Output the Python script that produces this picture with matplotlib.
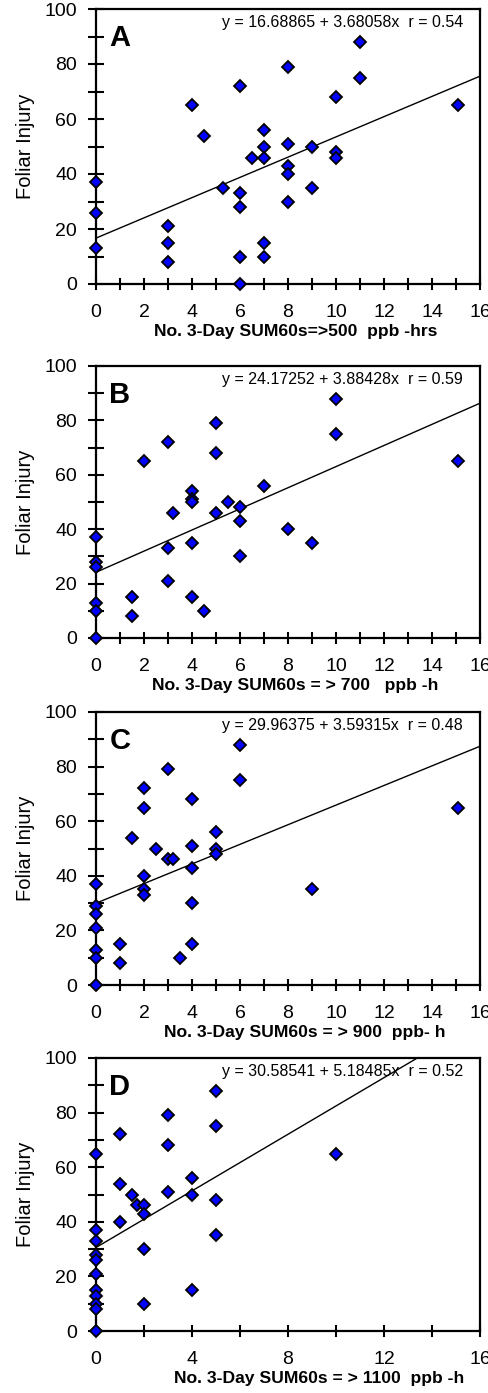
import matplotlib
matplotlib.use("Agg")
import matplotlib.pyplot as plt
import numpy as np

plt.rcParams['font.family'] = ['Liberation Sans', 'DejaVu Sans']

# ---------------- data ----------------
a_x = [0, 0, 0, 3, 3, 3, 4, 4.5, 5.3, 6, 6, 6, 6, 6, 6.5, 7, 7, 7, 7, 7,
       8, 8, 8, 8, 8, 9, 9, 10, 10, 10, 11, 11, 15.1]
a_y = [37, 26, 13, 21, 15, 8, 65, 54, 35, 72, 33, 28, 10, 0, 46, 56, 50, 46, 15, 10,
       79, 51, 43, 40, 30, 50, 35, 68, 48, 46, 88, 75, 65]

b_x = [0, 0, 0, 0, 0, 0, 1.5, 1.5, 2, 3, 3, 3, 3.2, 4, 4, 4, 4, 4, 4.5,
       5, 5, 5, 5.5, 6, 6, 6, 7, 8, 9, 10, 10, 15.1]
b_y = [37, 28, 26, 13, 10, 0, 15, 8, 65, 72, 33, 21, 46, 54, 51, 50, 35, 15, 10,
       79, 68, 46, 50, 48, 43, 30, 56, 40, 35, 88, 75, 65]

c_x = [0, 0, 0, 0, 0, 0, 0, 1, 1, 1.5, 2, 2, 2, 2, 2, 2.5, 3, 3, 3.2, 3.5,
       4, 4, 4, 4, 4, 5, 5, 5, 6, 6, 9, 15.1]
c_y = [37, 29, 26, 21, 13, 10, 0, 15, 8, 54, 72, 65, 40, 35, 33, 50, 79, 46, 46, 10,
       68, 51, 43, 30, 15, 56, 50, 48, 88, 75, 35, 65]

d_x = [0, 0, 0, 0, 0, 0, 0, 0, 0, 0, 0, 1, 1, 1, 1.5, 1.7, 2, 2, 2, 2,
       3, 3, 3, 4, 4, 4, 5, 5, 5, 5, 10]
d_y = [65, 37, 33, 28, 26, 21, 15, 13, 10, 8, 0, 72, 54, 40, 50, 46, 46, 43, 30, 10,
       79, 68, 51, 56, 50, 15, 88, 75, 48, 35, 65]

intercepts = [16.68865, 24.17252, 29.96375, 30.58541]
slopes = [3.68058, 3.88428, 3.59315, 5.18485]
r_values = ["0.54", "0.59", "0.48", "0.52"]
panel_letters = ["A", "B", "C", "D"]
x_labels = ["No. 3-Day SUM60s=>500  ppb -hrs",
            "No. 3-Day SUM60s = > 700   ppb -h",
            "No. 3-Day SUM60s = > 900  ppb- h",
            "No. 3-Day SUM60s = > 1100  ppb -h"]
y_label = "Foliar Injury"

xs = [a_x, b_x, c_x, d_x]
ys = [a_y, b_y, c_y, d_y]

# ---------------- layout ----------------
W, H = 489, 1393
fig = plt.figure(figsize=(W / 100, H / 100), dpi=100)

# (top, bottom) pixel rows for each panel
rows = [(9, 284), (366, 638), (712, 985), (1058, 1331)]
left, right = 96, 480
xlabel_pos = [(296, 331.5), (295, 685.5), (305, 1032), (319, 1378)]

for i in range(4):
    top, bot = rows[i]
    ax = fig.add_axes([left / W, 1 - bot / H, (right - left) / W, (bot - top) / H])
    ax.set_xlim(0, 16)
    ax.set_ylim(0, 100)

    # regression line
    lx = np.linspace(0, 16, 200)
    ly = intercepts[i] + slopes[i] * lx
    ax.plot(lx, ly, color='black', lw=1.0, zorder=2)

    ax.plot(xs[i], ys[i], linestyle='none', marker='D', ms=6.6,
            mfc='#0000FF', mec='black', mew=1.3, clip_on=False, zorder=3)

    for s in ax.spines.values():
        s.set_linewidth(1.6)

    ax.set_yticks(np.arange(0, 101, 20))
    ax.set_yticks(np.arange(10, 100, 20), minor=True)
    if i < 3:
        ax.set_xticks(np.arange(0, 17, 2))
        ax.set_xticks(np.arange(1, 16, 2), minor=True)
    else:
        ax.set_xticks(np.arange(0, 17, 4))
        ax.set_xticks(np.arange(2, 16, 4), minor=True)
    ax.tick_params(axis='both', which='both', direction='inout', width=1.5,
                   labelsize=14, top=False, right=False)
    ax.tick_params(axis='y', which='both', length=11, pad=8)
    ax.tick_params(axis='x', which='both', length=8, pad=10.5)

    ax.set_ylabel(y_label, fontsize=14.5, labelpad=7)

    ax.text(0.035, 0.945, panel_letters[i], transform=ax.transAxes,
            fontsize=21, fontweight='bold', ha='left', va='top')
    ax.text(15.3, 95.2, f"y = {intercepts[i]:.5f} + {slopes[i]:.5f}x  r = {r_values[i]}",
            fontsize=11.5, ha='right', va='center', zorder=4)

    fig.text(xlabel_pos[i][0] / W, 1 - xlabel_pos[i][1] / H, x_labels[i],
             fontsize=12.6, fontweight='bold', ha='center', va='center')

fig.savefig("out.png", dpi=100)
